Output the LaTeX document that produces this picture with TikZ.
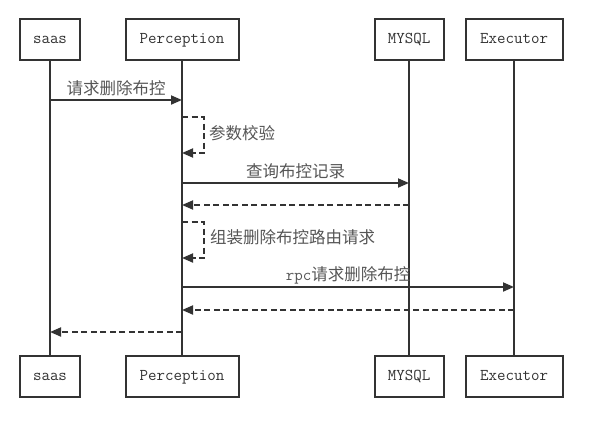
\documentclass[tikz,border=0pt]{standalone}
\usepackage{fontspec}
\newfontfamily\cjk{Noto Sans CJK SC}
\usetikzlibrary{arrows.meta}
\definecolor{ln}{HTML}{333333}
\definecolor{tx}{HTML}{555555}
\begin{document}
\begin{tikzpicture}[x=1pt,y=-1pt,
  actor/.style={draw=ln,line width=2pt,minimum height=41pt,inner sep=0pt,
    font=\ttfamily\fontsize{16.5}{18}\selectfont,text=ln,text height=11pt,text depth=3pt},
  life/.style={draw=ln,line width=2pt},
  msg/.style={draw=ln,line width=1.8pt,-{Triangle[length=11pt,width=9pt]}},
  ret/.style={msg,dash pattern=on 6pt off 3.5pt},
  lbl/.style={font=\cjk\fontsize{16.5}{18}\selectfont,text=tx,inner sep=0pt}]
\useasboundingbox (0,0) rectangle (612,423);
% top actors
\node[actor,minimum width=60pt] (sT) at (50,39.5) {saas};
\node[actor,minimum width=113pt] (pT) at (182,39.5) {Perception};
\node[actor,minimum width=69pt] (mT) at (409,39.5) {MYSQL};
\node[actor,minimum width=97pt] (eT) at (514,39.5) {Executor};
% bottom actors
\node[actor,minimum width=60pt] (sB) at (50,376.5) {saas};
\node[actor,minimum width=113pt] (pB) at (182,376.5) {Perception};
\node[actor,minimum width=69pt] (mB) at (409,376.5) {MYSQL};
\node[actor,minimum width=97pt] (eB) at (514,376.5) {Executor};
% lifelines
\draw[life] (sT.south) -- (sB.north);
\draw[life] (pT.south) -- (pB.north);
\draw[life] (mT.south) -- (mB.north);
\draw[life] (eT.south) -- (eB.north);
% messages
\draw[msg] (sT |- 0,100) -- node[lbl,midway,yshift=12pt]{请求删除布控} (pT |- 0,100);
\coordinate (l1a) at (pT |- 0,117);
\coordinate (l1b) at (pT |- 0,153);
\draw[ret] (l1a) -- ++(22,0) |- (l1b);
\node[lbl,anchor=west] (t1) at (209,133) {参数校验};
\draw[msg] (pT |- 0,183) -- node[lbl,midway,yshift=12pt]{查询布控记录} (mT |- 0,183);
\draw[ret] (mT |- 0,205) -- (pT |- 0,205);
\coordinate (l2a) at (pT |- 0,222);
\coordinate (l2b) at (pT |- 0,258);
\draw[ret] (l2a) -- ++(22,0) |- (l2b);
\node[lbl,anchor=west] (t2) at (210,237) {组装删除布控路由请求};
\draw[msg] (pT |- 0,287) -- node[lbl,midway,yshift=12pt]{\ttfamily\fontsize{16.5}{18}\selectfont rpc\cjk\fontsize{16.5}{18}\selectfont 请求删除布控} (eT |- 0,287);
\draw[ret] (eT |- 0,310) -- (pT |- 0,310);
\draw[ret] (pT |- 0,332) -- (sT |- 0,332);
\end{tikzpicture}
\end{document}
